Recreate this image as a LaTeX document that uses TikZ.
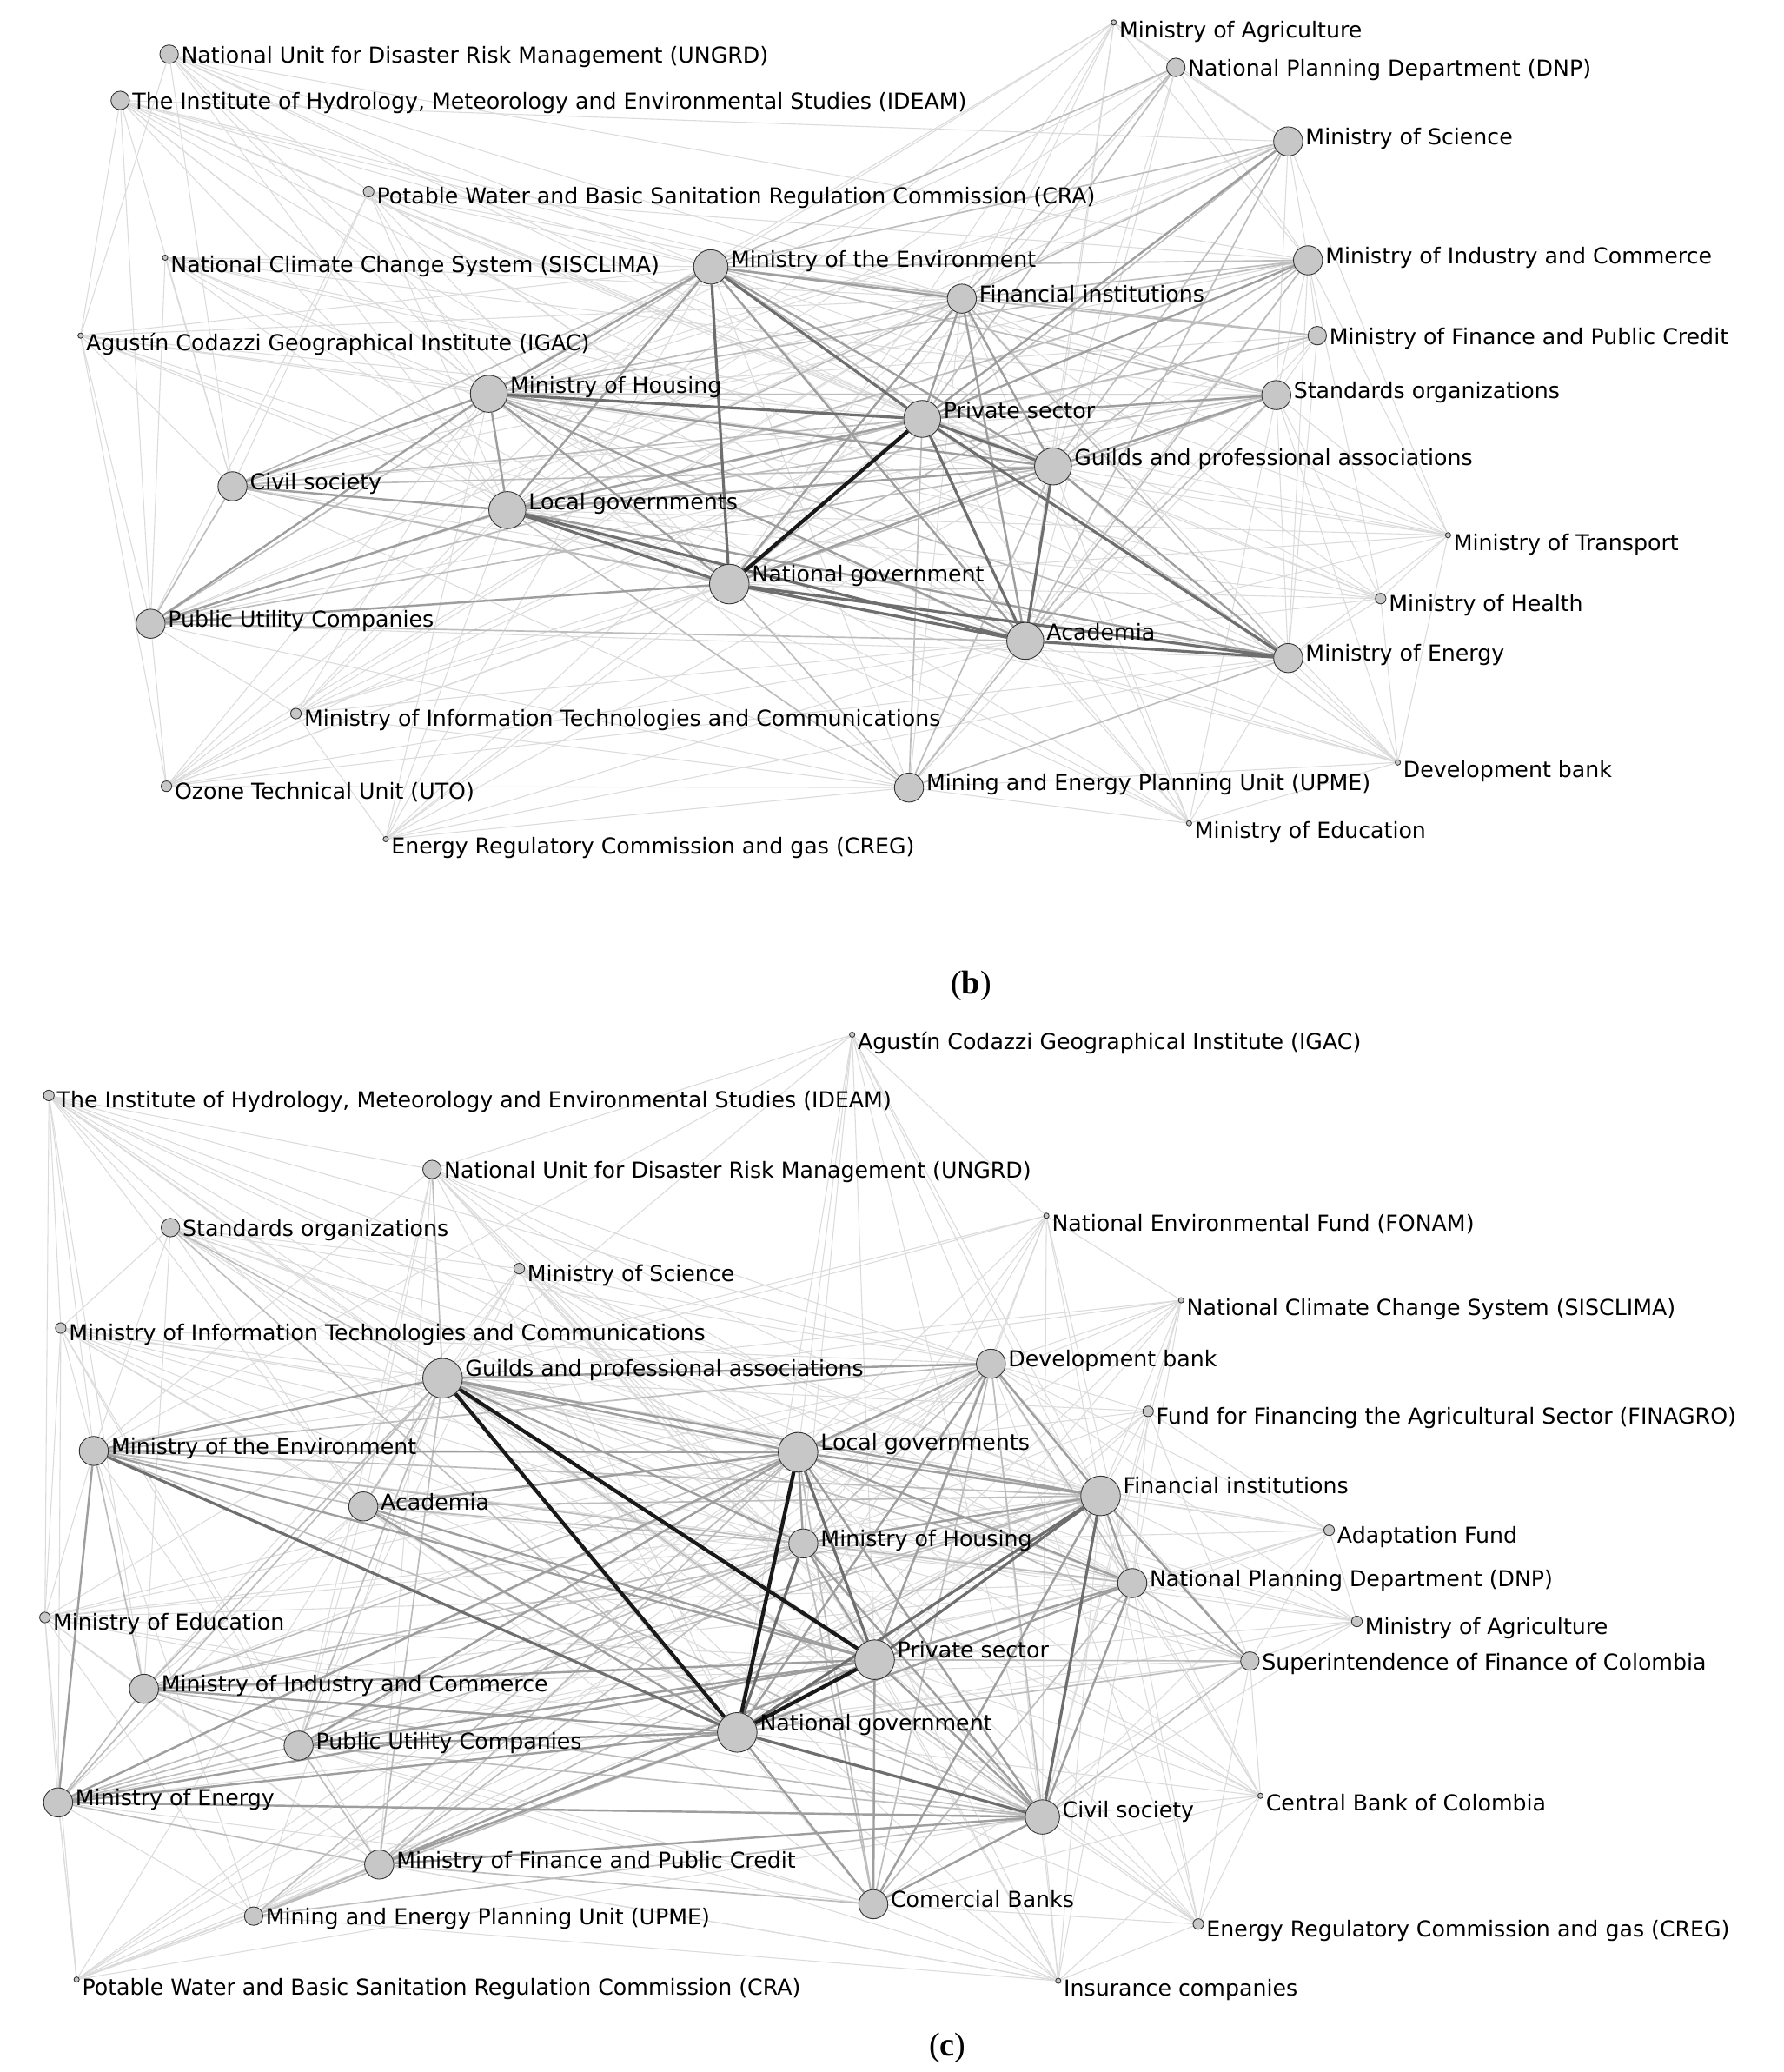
\documentclass[tikz,border=0pt]{standalone}
\usepackage{fontspec}
\newfontfamily\labfont{DejaVu Sans}
\newfontfamily\capfont{Liberation Serif}
\pgfdeclarelayer{back}
\pgfdeclarelayer{edges}
\pgfsetlayers{back,edges,main}
\tikzset{
 nd/.style={circle, draw=black!80, fill=black!22, line width=0.6pt, inner sep=0pt},
 lab/.style={inner sep=0pt, font=\labfont\fontsize{16.6}{19}\selectfont, text=black},
 capt/.style={inner sep=0pt, font=\capfont\fontsize{25}{28}\selectfont},
 e0/.style={draw=black!14, line width=0.7pt},
 e1/.style={draw=black!26, line width=1.1pt},
 e2/.style={draw=black!38, line width=1.6pt},
 e3/.style={draw=black!57, line width=2.1pt},
 e4/.style={draw=black!90, line width=2.8pt}
}
\newcommand\mynode[5]{%
 \node[nd, minimum size=#4] (#1) at (#2,#3) {};
 \node[lab, anchor=base west] (#1l) at ({#2+#4/2+2},{#3-#4/2+13.5}) {#5};}
\begin{document}
\begin{tikzpicture}[x=1pt,y=-1pt]
\begin{pgfonlayer}{back}
\fill[white] (0,0) rectangle (1350,1568);
\end{pgfonlayer}
\useasboundingbox (0,0) rectangle (1350,1568);
% ---------------- panel (b) ----------------
\mynode{bAgr}{843}{17}{4}{Ministry of Agriculture}
\mynode{bDNP}{890}{51}{14}{National Planning Department (DNP)}
\mynode{bSci}{975}{107}{22}{Ministry of Science}
\mynode{bMIC}{990}{197}{22}{Ministry of Industry and Commerce}
\mynode{bFin}{997}{254}{14}{Ministry of Finance and Public Credit}
\mynode{bStd}{966}{299}{22}{Standards organizations}
\mynode{bGui}{797}{353}{28}{Guilds and professional associations}
\mynode{bTra}{1096}{405}{4}{Ministry of Transport}
\mynode{bHea}{1045}{453}{8}{Ministry of Health}
\mynode{bEne}{975}{498}{22}{Ministry of Energy}
\mynode{bDev}{1058}{577}{4}{Development bank}
\mynode{bEdu}{900}{623}{4}{Ministry of Education}
\mynode{bUPME}{688}{596}{22}{Mining and Energy Planning Unit (UPME)}
\mynode{bAca}{776}{485}{28}{Academia}
\mynode{bNG}{552}{442}{30}{National government}
\mynode{bPS}{698}{317}{28}{Private sector}
\mynode{bFI}{728}{226}{22}{Financial institutions}
\mynode{bEnv}{538}{202}{26}{Ministry of the Environment}
\mynode{bHou}{370}{298}{28}{Ministry of Housing}
\mynode{bLG}{384}{386}{28}{Local governments}
\mynode{bCS}{176}{368}{22}{Civil society}
\mynode{bPUC}{114}{472}{22}{Public Utility Companies}
\mynode{bICT}{224}{540}{8}{Ministry of Information Technologies and Communications}
\mynode{bUTO}{126}{595}{8}{Ozone Technical Unit (UTO)}
\mynode{bCREG}{292}{635}{4}{Energy Regulatory Commission and gas (CREG)}
\mynode{bIGAC}{61}{254}{4}{Agustín Codazzi Geographical Institute (IGAC)}
\mynode{bSIS}{125}{195}{4}{National Climate Change System (SISCLIMA)}
\mynode{bCRA}{279}{145}{8}{Potable Water and Basic Sanitation Regulation Commission (CRA)}
\mynode{bIDE}{91}{76}{14}{The Institute of Hydrology, Meteorology and Environmental Studies (IDEAM)}
\mynode{bUNG}{128}{41}{14}{National Unit for Disaster Risk Management (UNGRD)}
\node[capt] (capb) at (735,746) {(\textbf{b})};
% ---------------- panel (c) ----------------
\mynode{cIGAC}{645}{783}{4}{Agustín Codazzi Geographical Institute (IGAC)}
\mynode{cIDE}{37}{829}{8}{The Institute of Hydrology, Meteorology and Environmental Studies (IDEAM)}
\mynode{cUNG}{327}{885}{14}{National Unit for Disaster Risk Management (UNGRD)}
\mynode{cStd}{129}{929}{14}{Standards organizations}
\mynode{cSci}{393}{960}{8}{Ministry of Science}
\mynode{cFON}{792}{920}{4}{National Environmental Fund (FONAM)}
\mynode{cSIS}{894}{984}{4}{National Climate Change System (SISCLIMA)}
\mynode{cICT}{46}{1005}{8}{Ministry of Information Technologies and Communications}
\mynode{cGui}{335}{1043}{30}{Guilds and professional associations}
\mynode{cDev}{750}{1032}{22}{Development bank}
\mynode{cFIN}{869}{1068}{8}{Fund for Financing the Agricultural Sector (FINAGRO)}
\mynode{cEnv}{71}{1098}{22}{Ministry of the Environment}
\mynode{cLG}{604}{1099}{30}{Local governments}
\mynode{cFI}{833}{1132}{30}{Financial institutions}
\mynode{cAca}{275}{1140}{22}{Academia}
\mynode{cHou}{608}{1168}{22}{Ministry of Housing}
\mynode{cAda}{1006}{1158}{8}{Adaptation Fund}
\mynode{cDNP}{857}{1198}{22}{National Planning Department (DNP)}
\mynode{cAgr}{1027}{1227}{8}{Ministry of Agriculture}
\mynode{cEdu}{34}{1224}{8}{Ministry of Education}
\mynode{cPS}{662}{1256}{30}{Private sector}
\mynode{cSup}{946}{1257}{14}{Superintendence of Finance of Colombia}
\mynode{cMIC}{109}{1278}{22}{Ministry of Industry and Commerce}
\mynode{cNG}{558}{1311}{30}{National government}
\mynode{cPUC}{226}{1321}{22}{Public Utility Companies}
\mynode{cEne}{44}{1364}{22}{Ministry of Energy}
\mynode{cCB}{954}{1359}{4}{Central Bank of Colombia}
\mynode{cCS}{789}{1375}{26}{Civil society}
\mynode{cFin}{287}{1411}{22}{Ministry of Finance and Public Credit}
\mynode{cCom}{661}{1441}{22}{Comercial Banks}
\mynode{cUPME}{192}{1450}{14}{Mining and Energy Planning Unit (UPME)}
\mynode{cCREG}{907}{1456}{8}{Energy Regulatory Commission and gas (CREG)}
\mynode{cCRA}{58}{1498}{4}{Potable Water and Basic Sanitation Regulation Commission (CRA)}
\mynode{cIns}{801}{1499}{4}{Insurance companies}
\node[capt] (capc) at (717,1550) {(\textbf{c})};
% ---------------- edges ----------------
\begin{pgfonlayer}{edges}
% panel (b) light
\foreach \a in {bAgr,bTra,bHea,bDev,bEdu,bICT,bUTO,bCREG,bIGAC,bSIS,bCRA,bIDE,bUNG}
 \foreach \b in {bEnv,bPS,bNG,bAca,bGui,bHou,bLG,bFI}
  \draw[e0] (\a) -- (\b);
\foreach \a/\b in {bSci/bHou,bSci/bLG,bUPME/bEnv,bUPME/bFI,bUPME/bHou,bCS/bFI,bPUC/bFI,
 bDNP/bNG,bDNP/bGui,bDNP/bAca,bDNP/bHou,bDNP/bLG,bFin/bNG,bFin/bGui,bFin/bAca,bFin/bHou,bFin/bLG,
 bEne/bStd,bEne/bMIC,bSci/bMIC,bMIC/bStd,bSci/bDNP,bMIC/bFin,bCS/bUPME,bPUC/bUPME,bEne/bFin,
 bSci/bStd,bDNP/bMIC,bStd/bFin,bPUC/bSci,bCS/bSci,bUPME/bMIC,bUPME/bStd,bPUC/bEne,bCS/bEne,
 bIDE/bCS,bIDE/bPUC,bUNG/bCS,bIDE/bSci,bICT/bUPME,bICT/bPUC,bUTO/bPUC,bUTO/bUPME,bCREG/bUPME,
 bHea/bEne,bDev/bEne,bEdu/bUPME,bEdu/bEne,bTra/bEne,bTra/bStd,bTra/bMIC,bAgr/bSci,bAgr/bDNP,
 bAgr/bMIC,bIGAC/bPUC,bIGAC/bCS,bSIS/bCS,bCRA/bCS,bCRA/bPUC,bDev/bUPME,bHea/bStd,
 bIDE/bIGAC,bUNG/bIGAC,bIGAC/bUTO,bSIS/bPUC,bUTO/bICT,bICT/bCREG,bEdu/bDev,bTra/bHea,
 bTra/bDev,bHea/bDev,bDNP/bSci,bIDE/bEne,bUNG/bMIC,bCRA/bMIC,bSIS/bStd,bIDE/bStd,bUTO/bEne,
 bCREG/bEne,bHea/bMIC,bDev/bStd,bEdu/bStd,bPUC/bMIC,bCS/bMIC,bCS/bStd,bPUC/bStd,bTra/bSci}
 \draw[e0] (\a) -- (\b);
\foreach \a/\b in {bFI/bHou,bFI/bLG,bEne/bEnv,bEne/bFI,bEne/bHou,bSci/bFI,bSci/bEnv,bSci/bGui,
 bSci/bNG,bSci/bAca,bMIC/bFI,bMIC/bEnv,bMIC/bGui,bMIC/bNG,bMIC/bHou,bMIC/bLG,bMIC/bAca,
 bStd/bFI,bStd/bEnv,bStd/bAca,bStd/bNG,bStd/bHou,bStd/bLG,bUPME/bNG,bUPME/bAca,bUPME/bPS,
 bUPME/bLG,bUPME/bGui,bCS/bNG,bCS/bEnv,bCS/bPS,bCS/bAca,bCS/bGui,bPUC/bPS,bPUC/bAca,bPUC/bEnv,
 bPUC/bGui,bDNP/bFI,bDNP/bPS,bDNP/bEnv,bFin/bPS,bFin/bFI,bFin/bEnv,bCS/bPUC,bEne/bUPME}
 \draw[e1] (\a) -- (\b);
\foreach \a/\b in {bEnv/bHou,bEnv/bLG,bEnv/bAca,bEnv/bFI,bFI/bPS,bFI/bNG,bFI/bAca,bHou/bLG,
 bHou/bNG,bHou/bAca,bHou/bGui,bLG/bPS,bLG/bGui,bNG/bGui,bEnv/bGui,bFI/bGui,bEne/bGui,bEne/bLG,
 bSci/bPS,bMIC/bPS,bStd/bPS,bStd/bGui,bCS/bLG,bCS/bHou,bPUC/bLG,bPUC/bHou,bPUC/bNG}
 \draw[e2] (\a) -- (\b);
\foreach \a/\b in {bHou/bPS,bEnv/bPS,bLG/bNG,bNG/bAca,bLG/bAca,bPS/bAca,bPS/bGui,bGui/bAca,
 bEnv/bNG,bEne/bAca,bEne/bPS,bEne/bNG}
 \draw[e3] (\a) -- (\b);
\draw[e4] (bPS) -- (bNG);
% panel (c) light
\foreach \a in {cIGAC,cIDE,cSci,cFON,cSIS,cICT,cFIN,cAda,cAgr,cEdu,cCB,cCREG,cCRA,cIns}
 \foreach \b in {cGui,cLG,cFI,cPS,cNG,cCS,cHou,cDev,cDNP}
  \draw[e0] (\a) -- (\b);
\foreach \a/\b in {cEnv/cDNP,cAca/cDev,cAca/cDNP,cMIC/cDev,cMIC/cDNP,cPUC/cDev,cPUC/cDNP,
 cEne/cDev,cEne/cDNP,cFin/cDev,cFin/cDNP,cCom/cGui,cUNG/cLG,cUNG/cNG,cUNG/cPS,cUNG/cFI,cUNG/cDev,
 cUNG/cHou,cUNG/cCS,cUNG/cDNP,cStd/cLG,cStd/cPS,cStd/cFI,cStd/cDev,cStd/cHou,cStd/cCS,cStd/cDNP,
 cSup/cDev,cSup/cHou,cSup/cGui,cUPME/cGui,cUPME/cFI,cUPME/cHou,cUPME/cDev,cUPME/cDNP,
 cEne/cUPME,cCom/cSup,cAca/cMIC,cAca/cPUC,cStd/cEnv,cStd/cAca,cUNG/cEnv,cUNG/cAca,cMIC/cFin,
 cEnv/cPUC,cAca/cEne,cPUC/cCom,
 cIDE/cEnv,cIDE/cStd,cIDE/cMIC,cICT/cEnv,cICT/cEne,cEdu/cEnv,cEdu/cEne,cEdu/cMIC,cCRA/cEne,
 cCRA/cUPME,cCRA/cFin,cIns/cCom,cIns/cFin,cCREG/cCom,cCREG/cSup,cCB/cSup,cCB/cCom,cAgr/cSup,
 cAda/cSup,cFIN/cSup,cSci/cAca,cSci/cStd,cIGAC/cUNG,cIGAC/cEnv,cFON/cEnv,cSIS/cEnv,cIDE/cEdu,
 cICT/cEdu,cEdu/cCRA,cIDE/cICT,cIDE/cUNG,cICT/cStd,cICT/cAca,cIDE/cAca,cEnv/cUPME,cEne/cCRA,
 cStd/cMIC,cSci/cPUC,cSci/cMIC,cUNG/cPUC,cUNG/cFin,cICT/cPUC,cICT/cFin,cEdu/cFin,cEdu/cUPME,
 cCB/cCREG,cIns/cCREG,cAgr/cAda,cFIN/cAda,cSIS/cFON,cSIS/cFIN,cFON/cIGAC,cCB/cIns,cSup/cAgr,
 cFin/cIns,cUPME/cIns,cPUC/cIns,cMIC/cCom,cEne/cCom,cAca/cCom,cSup/cMIC,cSup/cEne}
 \draw[e0] (\a) -- (\b);
\foreach \a/\b in {cGui/cCS,cGui/cDNP,cDev/cHou,cDev/cCS,cDev/cDNP,cHou/cDNP,
 cEnv/cFI,cEnv/cCS,cEnv/cHou,cEnv/cDev,cAca/cGui,cAca/cFI,cAca/cHou,cAca/cCS,
 cMIC/cLG,cMIC/cGui,cMIC/cFI,cMIC/cHou,cMIC/cCS,cPUC/cGui,cPUC/cFI,cPUC/cHou,cPUC/cCS,
 cEne/cGui,cEne/cFI,cEne/cHou,cFin/cLG,cFin/cGui,cFin/cFI,cFin/cHou,cCom/cLG,cCom/cHou,
 cCom/cDNP,cCom/cDev,cUNG/cGui,cStd/cGui,cStd/cNG,cSup/cPS,cSup/cNG,cSup/cDNP,cSup/cCS,
 cSup/cLG,cUPME/cNG,cUPME/cPS,cUPME/cLG,cUPME/cCS,cEnv/cMIC,cEnv/cAca,cEne/cFin,cEne/cPUC,
 cEne/cMIC,cMIC/cPUC,cPUC/cFin,cFin/cUPME,cFin/cCom}
 \draw[e1] (\a) -- (\b);
\foreach \a/\b in {cGui/cLG,cGui/cHou,cGui/cFI,cGui/cDev,cDev/cLG,cDev/cFI,cDev/cPS,cDev/cNG,
 cLG/cHou,cLG/cFI,cLG/cDNP,cHou/cPS,cHou/cFI,cDNP/cPS,cDNP/cNG,cDNP/cCS,cPS/cCS,cFI/cDNP,
 cLG/cCS,cHou/cCS,cEnv/cLG,cEnv/cGui,cEnv/cPS,cAca/cNG,cAca/cPS,cAca/cLG,cMIC/cNG,cMIC/cPS,
 cPUC/cNG,cPUC/cPS,cPUC/cLG,cEne/cNG,cEne/cPS,cEne/cLG,cEne/cCS,cFin/cNG,cFin/cPS,cFin/cCS,
 cCom/cNG,cCom/cCS,cCom/cPS,cCom/cFI,cSup/cFI,cEnv/cEne}
 \draw[e2] (\a) -- (\b);
\foreach \a/\b in {cFI/cCS,cNG/cCS,cFI/cPS,cFI/cNG,cHou/cNG,cLG/cPS,cEnv/cNG}
 \draw[e3] (\a) -- (\b);
\foreach \a/\b in {cGui/cPS,cGui/cNG,cLG/cNG,cPS/cNG}
 \draw[e4] (\a) -- (\b);
\end{pgfonlayer}
\end{tikzpicture}
\end{document}
